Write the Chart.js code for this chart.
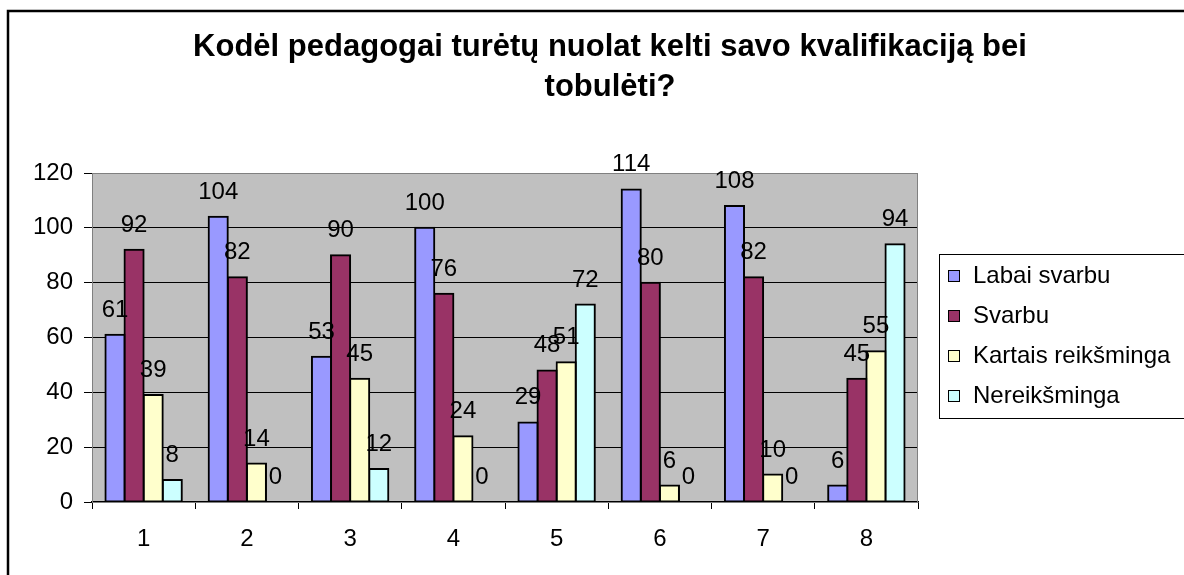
<!DOCTYPE html>
<html>
<head>
<meta charset="utf-8">
<script src="https://cdn.jsdelivr.net/npm/chart.js@4/dist/chart.umd.min.js"></script>
<style>
  html, body { margin: 0; padding: 0; background: #fff; }
  #wrap { width: 1184px; height: 575px; position: relative; }
</style>
</head>
<body>
<div id="wrap"><canvas id="myChart"></canvas></div>
<script>
var categories = ['1', '2', '3', '4', '5', '6', '7', '8'];
var seriesNames = ['Labai svarbu', 'Svarbu', 'Kartais reikšminga', 'Nereikšminga'];
var labaiSvarbu = [61, 104, 53, 100, 29, 114, 108, 6];
var svarbu = [92, 82, 90, 76, 48, 80, 82, 45];
var kartaisReiksminga = [39, 14, 45, 24, 51, 6, 10, 55];
var nereiksminga = [8, 0, 12, 0, 72, 0, 0, 94];
var yTicks = [0, 20, 40, 60, 80, 100, 120];
var titleLines = ['Kodėl pedagogai turėtų nuolat kelti savo kvalifikaciją bei', 'tobulėti?'];

var colors = ['#9999FF', '#993366', '#FFFFCC', '#CCFFFF'];
var fontFamily = '"Liberation Sans", Arial, sans-serif';

var seriesValues = [labaiSvarbu, svarbu, kartaisReiksminga, nereiksminga];

var data = {
    labels: categories,
    datasets: seriesNames.map(function (name, i) {
        return {
            label: name,
            data: seriesValues[i],
            backgroundColor: colors[i],
            borderColor: '#000',
            borderWidth: 2,
            borderSkipped: false,
            inflateAmount: 1,
            barPercentage: 1,
            categoryPercentage: 0.74
        };
    })
};

// gray plot area, outer frame, title, value labels and boxed legend
var excelLook = {
    id: 'excelLook',
    beforeDraw: function (chart) {
        var ctx = chart.ctx, a = chart.chartArea;
        ctx.save();
        ctx.fillStyle = '#fff';
        ctx.fillRect(0, 0, chart.width, chart.height);
        ctx.fillStyle = '#C0C0C0';
        ctx.fillRect(a.left, a.top, a.right - a.left, a.bottom - a.top);
        ctx.restore();
    },
    beforeDatasetsDraw: function (chart) {
        var ctx = chart.ctx, a = chart.chartArea;
        ctx.save();
        ctx.strokeStyle = '#808080';
        ctx.lineWidth = 1;
        ctx.strokeRect(a.left + 0.5, a.top + 0.5, a.right - a.left - 1, a.bottom - a.top);
        ctx.restore();
    },
    afterDraw: function (chart) {
        var ctx = chart.ctx;
        ctx.save();
        // outer frame
        ctx.strokeStyle = '#000';
        ctx.lineWidth = 2.5;
        ctx.strokeRect(8, 11, 1300, 700);

        // title
        ctx.fillStyle = '#000';
        ctx.font = 'bold 31px ' + fontFamily;
        ctx.textAlign = 'center';
        ctx.textBaseline = 'alphabetic';
        ctx.fillText(titleLines[0], 610, 56);
        ctx.fillText(titleLines[1], 610, 96);

        // value labels
        ctx.font = '24px ' + fontFamily;
        chart.data.datasets.forEach(function (ds, i) {
            chart.getDatasetMeta(i).data.forEach(function (bar, j) {
                ctx.fillText(String(ds.data[j]), bar.x, bar.y - 18);
            });
        });

        // legend
        ctx.strokeStyle = '#000';
        ctx.lineWidth = 1;
        ctx.strokeRect(939.5, 254.5, 260, 164);
        ctx.textAlign = 'left';
        ctx.textBaseline = 'middle';
        ctx.font = '24px ' + fontFamily;
        seriesNames.forEach(function (name, i) {
            var y = 276 + i * 40;
            ctx.fillStyle = colors[i];
            ctx.fillRect(948, y - 6, 12, 12);
            ctx.strokeRect(948.5, y - 5.5, 11, 11);
            ctx.fillStyle = '#000';
            ctx.fillText(name, 973, y);
        });
        ctx.restore();
    }
};

var config = {
    type: 'bar',
    data: data,
    plugins: [excelLook],
    options: {
        responsive: true,
        maintainAspectRatio: false,
        animation: false,
        layout: {
            padding: { top: 173, right: 266, bottom: 0, left: 0 }
        },
        plugins: {
            legend: { display: false },
            title: { display: false },
            tooltip: { enabled: false }
        },
        scales: {
            x: {
                grid: {
                    offset: true,
                    drawOnChartArea: false,
                    drawTicks: true,
                    tickLength: 7,
                    color: '#000'
                },
                border: { display: true, color: '#000', width: 1.5 },
                ticks: {
                    color: '#000',
                    font: { family: fontFamily, size: 24 },
                    padding: 16
                },
                afterFit: function (s) { s.height = 73; }
            },
            y: {
                min: 0,
                max: 120,
                afterBuildTicks: function (s) {
                    s.ticks = yTicks.map(function (v) { return { value: v }; });
                },
                grid: {
                    color: '#000',
                    tickColor: '#000',
                    tickLength: 8,
                    lineWidth: 1
                },
                border: { display: false },
                ticks: {
                    color: '#000',
                    font: { family: fontFamily, size: 24 },
                    padding: 11
                },
                afterFit: function (s) { s.width = 92; }
            }
        }
    }
};

var myChart = new Chart(
    document.getElementById('myChart').getContext('2d'),
    config
);
</script>
</body>
</html>
